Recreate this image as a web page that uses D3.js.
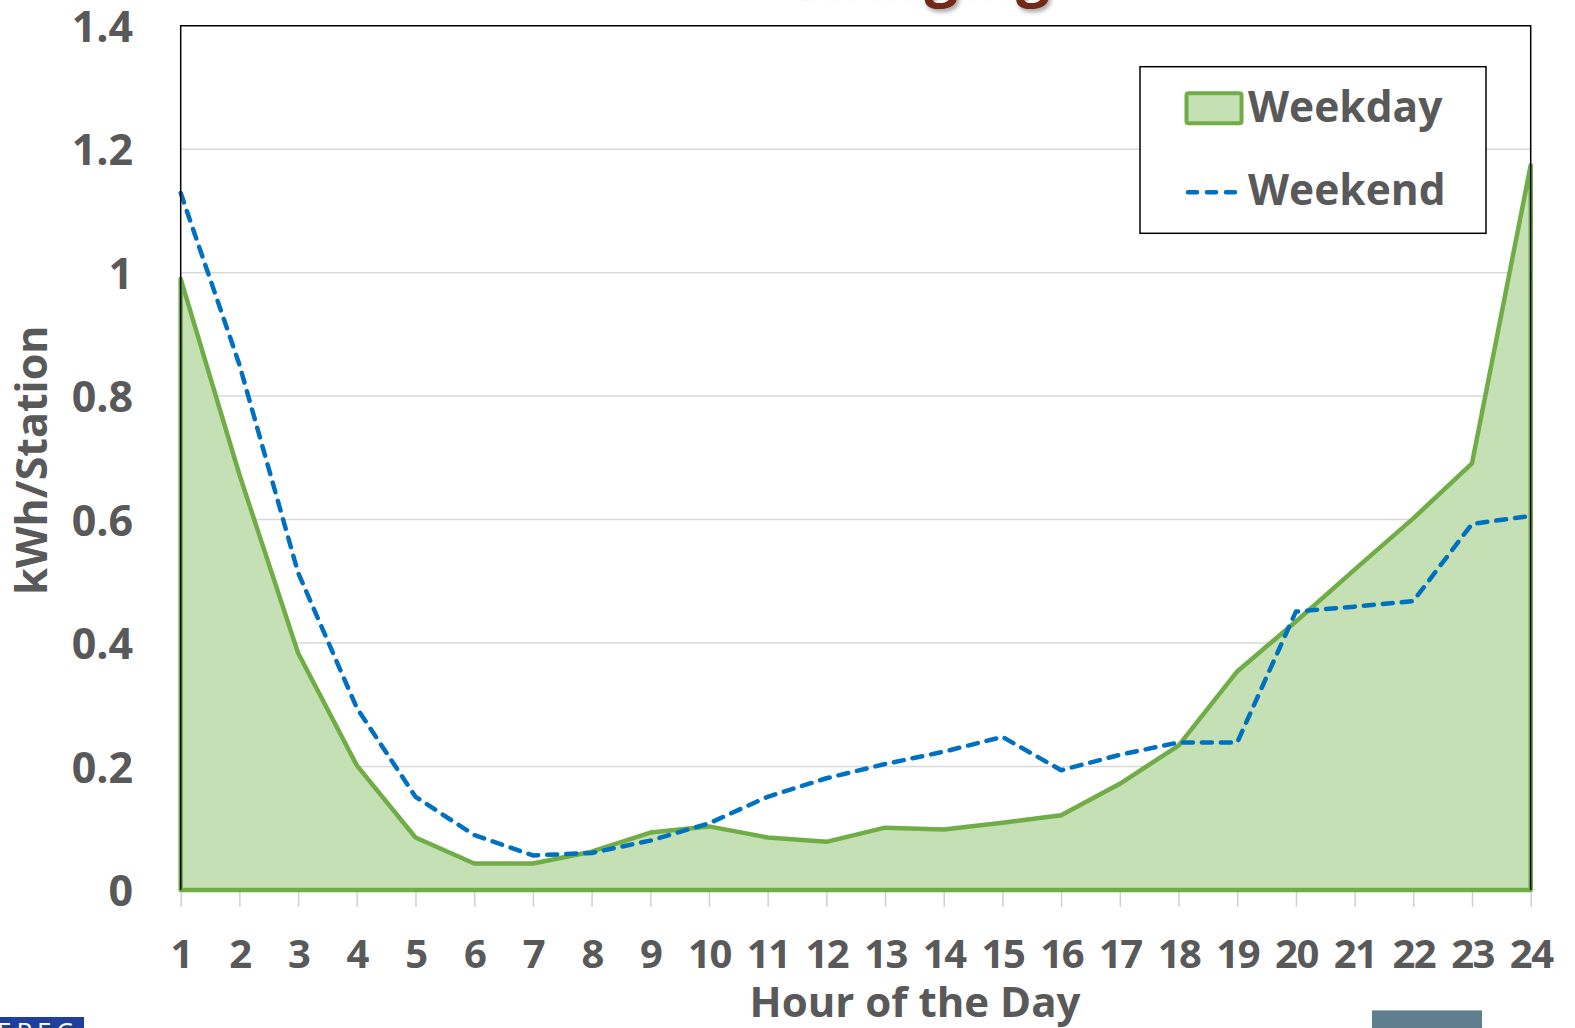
<!DOCTYPE html>
<html>
<head>
<meta charset="utf-8">
<script src="https://cdn.jsdelivr.net/npm/d3@7"></script>
<style>
  body { margin: 0; background: #fff; }
  svg { display: block; font-family: "Open Sans", sans-serif; font-weight: 700; }
</style>
</head>
<body>
<svg class="chart"></svg>
<script>
// values (kWh per station, hour 1..24)
var hours = d3.range(1, 25);
var weekday = [0.99, 0.673, 0.384, 0.202, 0.085, 0.043, 0.043, 0.062, 0.093, 0.103, 0.085, 0.078,
               0.101, 0.098, 0.109, 0.121, 0.172, 0.234, 0.354, 0.435, 0.519, 0.602, 0.691, 1.174];
var weekend = [1.129, 0.851, 0.514, 0.295, 0.151, 0.089, 0.056, 0.060, 0.080, 0.108, 0.151, 0.181,
               0.204, 0.224, 0.248, 0.194, 0.219, 0.239, 0.239, 0.451, 0.459, 0.468, 0.593, 0.606];
var yTicks = [0, 0.2, 0.4, 0.6, 0.8, 1, 1.2, 1.4];
var yTickLabels = ['0', '0.2', '0.4', '0.6', '0.8', '1', '1.2', '1.4'];
var seriesNames = ['Weekday', 'Weekend'];

var W = 1575, H = 1028;
var margin = {top: 25.7, right: 44.3, bottom: 138, left: 180.7},
    width = W - margin.left - margin.right,
    height = H - margin.top - margin.bottom;

var svg = d3.select('.chart').attr('width', W).attr('height', H);

var defs = svg.append('defs');
defs.append('filter').attr('id', 'shadow')
  .append('feDropShadow').attr('dx', 2).attr('dy', 3).attr('stdDeviation', 2)
  .attr('flood-color', '#000').attr('flood-opacity', 0.35);

// title, mostly cut off above the picture
svg.append('text')
  .attr('x', 1050).attr('y', -6.5)
  .attr('text-anchor', 'end')
  .attr('font-size', 60)
  .attr('fill', '#722a18')
  .attr('filter', 'url(#shadow)')
  .text('Charging');

var x = d3.scaleLinear().domain([1, 24]).range([0, width]),
    y = d3.scaleLinear().domain([0, 1.4]).range([height, 0]);

var g = svg.append('g')
  .attr('transform', 'translate(' + margin.left + ',' + margin.top + ')');

// grid
g.append('g').selectAll('line')
  .data(yTicks.slice(1, -1))
  .enter().append('line')
    .attr('x1', 0).attr('x2', width)
    .attr('y1', function(d) { return y(d); })
    .attr('y2', function(d) { return y(d); })
    .attr('stroke', '#d9d9d9').attr('stroke-width', 1.5);

// x axis
var xAxis = g.append('g')
  .attr('transform', 'translate(0,' + height + ')')
  .call(d3.axisBottom(x).tickValues(hours).tickSize(17).tickFormat(d3.format('d')));
xAxis.select('.domain').remove();
xAxis.selectAll('.tick line').attr('stroke', '#d0d0d0').attr('stroke-width', 1.5);
xAxis.selectAll('.tick text')
  .attr('y', 78).attr('dy', 0)
  .attr('font-size', 40).attr('font-family', '"Open Sans", sans-serif').attr('font-weight', 700)
  .attr('letter-spacing', -1.5)
  .attr('fill', '#595959');

// y axis
var yAxis = g.append('g')
  .call(d3.axisLeft(y).tickValues(yTicks).tickSize(0).tickPadding(47.5)
    .tickFormat(function(d, i) { return yTickLabels[i]; }));
yAxis.select('.domain').remove();
yAxis.selectAll('.tick text')
  .attr('dy', '0.36em')
  .attr('font-size', 43).attr('font-family', '"Open Sans", sans-serif').attr('font-weight', 700)
  .attr('fill', '#595959');

// weekday area
var area = d3.area()
  .x(function(d, i) { return x(hours[i]); })
  .y0(height)
  .y1(function(d) { return y(d); });

g.append('path')
  .datum(weekday)
  .attr('d', function(d) { return area(d) + 'Z'; })
  .attr('fill', '#c5e0b4')
  .attr('stroke', '#70ad47')
  .attr('stroke-width', 4.5)
  .attr('stroke-linejoin', 'round');

// weekend line
var line = d3.line()
  .x(function(d, i) { return x(hours[i]); })
  .y(function(d) { return y(d); });

g.append('path')
  .datum(weekend)
  .attr('d', line)
  .attr('fill', 'none')
  .attr('stroke', '#0070c0')
  .attr('stroke-width', 4.5)
  .attr('stroke-dasharray', '10,9')
  .attr('stroke-linecap', 'round')
  .attr('stroke-linejoin', 'round');

// plot frame (top, left, right)
g.append('path')
  .attr('d', 'M0,' + height + 'V0H' + width + 'V' + height)
  .attr('fill', 'none').attr('stroke', '#000').attr('stroke-width', 1.5);

// axis titles
svg.append('text')
  .attr('x', 915).attr('y', 1017)
  .attr('text-anchor', 'middle')
  .attr('font-size', 42).attr('fill', '#595959')
  .text('Hour of the Day');

svg.append('text')
  .attr('transform', 'translate(47,460) rotate(-90)')
  .attr('text-anchor', 'middle')
  .attr('font-size', 43).attr('fill', '#595959')
  .text('kWh/Station');

// legend
var legend = svg.append('g').attr('transform', 'translate(1140,66.7)');
legend.append('rect')
  .attr('width', 346).attr('height', 166.6)
  .attr('fill', '#fff').attr('stroke', '#000').attr('stroke-width', 1.5);
legend.append('rect')
  .attr('x', 46.5).attr('y', 26.5).attr('width', 55).attr('height', 30)
  .attr('rx', 2)
  .attr('fill', '#c5e0b4').attr('stroke', '#70ad47').attr('stroke-width', 4);
legend.append('line')
  .attr('x1', 48).attr('x2', 97).attr('y1', 125.6).attr('y2', 125.6)
  .attr('stroke', '#0070c0').attr('stroke-width', 4.5)
  .attr('stroke-dasharray', '9,10').attr('stroke-linecap', 'round');
legend.selectAll('text.lbl')
  .data(seriesNames)
  .enter().append('text')
    .attr('class', 'lbl')
    .attr('x', 108)
    .attr('y', function(d, i) { return 55.5 + i * 83.3; })
    .attr('font-size', 42.5).attr('fill', '#595959')
    .text(function(d) { return d; });

// footer pieces cut off at the bottom edge
svg.append('rect')
  .attr('x', 0).attr('y', 1017).attr('width', 84).attr('height', 11)
  .attr('fill', '#1f3f9c');
svg.append('text')
  .attr('x', -3).attr('y', 1041)
  .attr('font-size', 26).attr('font-weight', 400).attr('letter-spacing', 5)
  .attr('fill', '#fff')
  .text('EPEC');
svg.append('rect')
  .attr('x', 1372).attr('y', 1010).attr('width', 110).attr('height', 18)
  .attr('fill', '#5f7f8f');
svg.append('line')
  .attr('x1', 1372).attr('x2', 1482).attr('y1', 1010.5).attr('y2', 1010.5)
  .attr('stroke', '#9fb1ba').attr('stroke-width', 1);
</script>
</body>
</html>
